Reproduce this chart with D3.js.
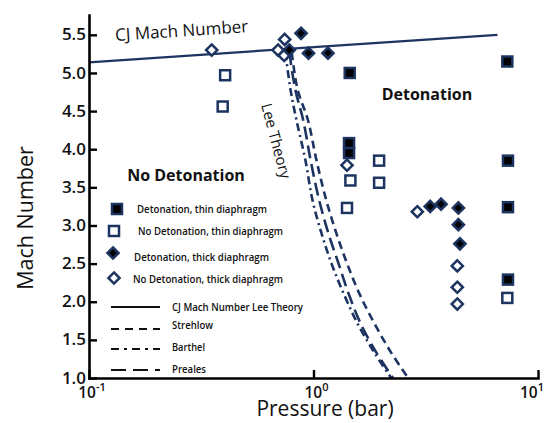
<!DOCTYPE html>
<html>
<head>
<meta charset="utf-8">
<script src="https://cdn.jsdelivr.net/npm/d3@7"></script>
<style>
  html, body { margin: 0; padding: 0; background: #fff; }
  svg { display: block; font-family: "Open Sans", "Noto Sans", sans-serif; }
</style>
</head>
<body>
<svg id="chart" width="544" height="423"></svg>
<script>
// ---- data ----
const machTicks = [1.0, 1.5, 2.0, 2.5, 3.0, 3.5, 4.0, 4.5, 5.0, 5.5];
const pressureTicks = [0.1, 1, 10];
const pressureTickExp = ["-1", "0", "1"];

// CJ Mach number (Lee theory), pressure in bar
const cjPressure = [0.1, 6.6];
const cjMach = [5.14, 5.50];

// critical-pressure curves, shared Mach levels
const theoryMach     = [5.27, 4.78, 4.38, 3.86, 3.33, 2.88, 2.48, 2.09, 1.70, 1.34, 1.00];
const strehlowP      = [0.80, 0.85, 0.945, 1.03, 1.14, 1.27, 1.42, 1.61, 1.88, 2.21, 2.64];
const barthelP       = [0.75, 0.79, 0.84, 0.92, 0.99, 1.09, 1.21, 1.37, 1.58, 1.86, 2.22];
const prealesP       = [0.78, 0.83, 0.90, 0.97, 1.06, 1.17, 1.30, 1.44, 1.63, 1.90, 2.26];

// experiments
const detThinP   = [7.30, 1.45, 1.44, 1.44, 7.35, 7.35, 7.35];
const detThinM   = [5.15, 5.00, 4.08, 3.95, 3.85, 3.24, 2.29];
const noDetThinP = [0.404, 0.394, 1.96, 1.46, 1.96, 1.41, 7.30];
const noDetThinM = [4.97, 4.56, 3.85, 3.59, 3.56, 3.23, 2.05];
const detThickP   = [0.88, 0.78, 0.95, 1.16, 3.31, 3.70, 4.42, 4.42, 4.49];
const detThickM   = [5.52, 5.30, 5.26, 5.26, 3.25, 3.28, 3.23, 3.01, 2.76];
const noDetThickP = [0.352, 0.744, 0.695, 0.74, 1.41, 2.90, 4.37, 4.37, 4.37];
const noDetThickM = [5.30, 5.44, 5.30, 5.23, 3.79, 3.18, 2.47, 2.19, 1.97];

const markerLabels = [
  "Detonation, thin diaphragm",
  "No Detonation, thin diaphragm",
  "Detonation, thick diaphragm",
  "No Detonation, thick diaphragm"
];
const lineLabels = ["CJ Mach Number Lee Theory", "Strehlow", "Barthel", "Preales"];

// ---- drawing ----
const navy = "#1d3461";
const ink = "#111";
const svg = d3.select("#chart");

const x = d3.scaleLog().domain([0.1, 10]).range([89, 538]);
const y = d3.scaleLinear().domain([1, 5.76]).range([378, 15]);

const zip = (ps, ms) => ps.map((p, i) => ({ p, m: ms[i] }));

// theory curves
const dashes = { strehlow: "8,5", barthel: "8,4,2,4", preales: "13,6" };
const curveLine = d3.line().x(d => x(d.p)).y(d => y(d.m)).curve(d3.curveCatmullRom.alpha(0.5));
[["strehlow", strehlowP], ["barthel", barthelP], ["preales", prealesP]].forEach(([k, ps]) => {
  svg.append("path")
    .attr("d", curveLine(zip(ps, theoryMach)))
    .attr("fill", "none")
    .attr("stroke", navy)
    .attr("stroke-width", 2.6)
    .attr("stroke-dasharray", dashes[k]);
});

// CJ line
svg.append("path")
  .attr("d", d3.line().x(d => x(d.p)).y(d => y(d.m))(zip(cjPressure, cjMach)))
  .attr("fill", "none")
  .attr("stroke", navy)
  .attr("stroke-width", 2.2);

// markers
function marker(g, kind) {
  const filled = kind === "sq" || kind === "dia";
  if (kind === "sq" || kind === "sqOpen") {
    g.append("rect").attr("x", -5).attr("y", -5).attr("width", 10).attr("height", 10);
  } else {
    g.append("path").attr("d", "M0,-5.6L5.6,0L0,5.6L-5.6,0Z");
  }
  g.selectAll("rect,path")
    .attr("fill", filled ? "#000" : "#fff")
    .attr("stroke", navy)
    .attr("stroke-width", 2.5);
}
function plotSeries(ps, ms, kind) {
  svg.append("g").selectAll("g")
    .data(zip(ps, ms))
    .join("g")
    .attr("transform", d => `translate(${x(d.p)},${y(d.m)})`)
    .each(function () { marker(d3.select(this), kind); });
}
plotSeries(noDetThinP, noDetThinM, "sqOpen");
plotSeries(detThinP, detThinM, "sq");
plotSeries(noDetThickP, noDetThickM, "diaOpen");
plotSeries(detThickP, detThickM, "dia");

// axes
const yAxis = d3.axisLeft(y).tickValues(machTicks).tickFormat(d3.format(".1f"))
  .tickSizeInner(-8).tickSizeOuter(0).tickPadding(3);
const gy = svg.append("g").attr("transform", "translate(89,0)").call(yAxis);
gy.select(".domain").attr("stroke", "#000").attr("stroke-width", 2.6).attr("stroke-linecap", "square");
gy.selectAll(".tick line").attr("stroke", "#000").attr("stroke-width", 2.4);
gy.selectAll(".tick text")
  .attr("font-family", "'Open Sans', sans-serif")
  .attr("font-size", 17).attr("font-weight", 600).attr("fill", ink).attr("dy", "0.3em");

const xAxis = d3.axisBottom(x).tickValues(pressureTicks).tickFormat("")
  .tickSizeInner(-8).tickSizeOuter(0);
const gx = svg.append("g").attr("transform", "translate(0,378)").call(xAxis);
gx.select(".domain").attr("stroke", "#000").attr("stroke-width", 2.6).attr("stroke-linecap", "square");
gx.selectAll(".tick line").attr("stroke", "#000").attr("stroke-width", 2.4);
gx.selectAll(".tick text").remove();

pressureTicks.forEach((v, i) => {
  const last = i === pressureTicks.length - 1;
  const t = svg.append("text")
    .attr("x", last ? 544 : x(v) + 3)
    .attr("y", 398)
    .attr("text-anchor", last ? "end" : "middle")
    .attr("font-size", 15.5).attr("font-weight", 600).attr("fill", ink);
  t.append("tspan").text("10");
  t.append("tspan").attr("font-size", 11).attr("dy", -7).text(pressureTickExp[i]);
});

// axis titles
svg.append("text")
  .attr("x", 325).attr("y", 416)
  .attr("text-anchor", "middle")
  .attr("font-size", 21).attr("fill", ink)
  .text("Pressure (bar)");
svg.append("text")
  .attr("transform", "translate(33,218) rotate(-90)")
  .attr("text-anchor", "middle")
  .attr("font-size", 21.5).attr("fill", ink)
  .text("Mach Number");

// annotations
svg.append("text")
  .attr("transform", "translate(182,36.5) rotate(-3.8)")
  .attr("text-anchor", "middle")
  .attr("font-size", 17).attr("fill", ink)
  .text("CJ Mach Number");
svg.append("text")
  .attr("transform", "translate(276,141) rotate(75)")
  .attr("text-anchor", "middle").attr("dy", "0.35em")
  .attr("font-size", 15).attr("fill", ink)
  .text("Lee Theory");
svg.append("text")
  .attr("x", 427).attr("y", 100)
  .attr("text-anchor", "middle")
  .attr("font-size", 16).attr("font-weight", 700).attr("fill", ink)
  .text("Detonation");
svg.append("text")
  .attr("x", 186).attr("y", 181)
  .attr("text-anchor", "middle")
  .attr("font-size", 16).attr("font-weight", 700).attr("fill", ink)
  .text("No Detonation");

// legend
const markerKinds = ["sq", "sqOpen", "dia", "diaOpen"];
const markerRows = [
  { mx: 117, my: 209, tx: 137, ty: 213, len: 130 },
  { mx: 114, my: 231, tx: 138, ty: 235, len: 145 },
  { mx: 113, my: 253, tx: 134, ty: 261, len: 135 },
  { mx: 114, my: 278, tx: 133, ty: 283, len: 150 }
];
const legend = svg.append("g");
markerLabels.forEach((lab, i) => {
  const r = markerRows[i];
  const g = legend.append("g").attr("transform", `translate(${r.mx},${r.my})`);
  marker(g, markerKinds[i]);
  legend.append("text")
    .attr("x", r.tx).attr("y", r.ty)
    .attr("font-size", 10.5).attr("font-weight", 600).attr("fill", ink)
    .attr("textLength", r.len).attr("lengthAdjust", "spacingAndGlyphs")
    .text(lab);
});
const lineDash = [null, "8,6", "8,5,3,5", "15,7"];
const lineRows = [
  { ly: 307, ty: 311, len: 131 },
  { ly: 329, ty: 329, len: 41 },
  { ly: 349, ty: 351, len: 33 },
  { ly: 370, ty: 373, len: 34 }
];
lineLabels.forEach((lab, i) => {
  const r = lineRows[i];
  legend.append("line")
    .attr("x1", 111).attr("x2", 160).attr("y1", r.ly).attr("y2", r.ly)
    .attr("stroke", ink).attr("stroke-width", 2)
    .attr("stroke-dasharray", lineDash[i]);
  legend.append("text")
    .attr("x", 172).attr("y", r.ty)
    .attr("font-size", 10.5).attr("font-weight", 600).attr("fill", ink)
    .attr("textLength", r.len).attr("lengthAdjust", "spacingAndGlyphs")
    .text(lab);
});
</script>
</body>
</html>
